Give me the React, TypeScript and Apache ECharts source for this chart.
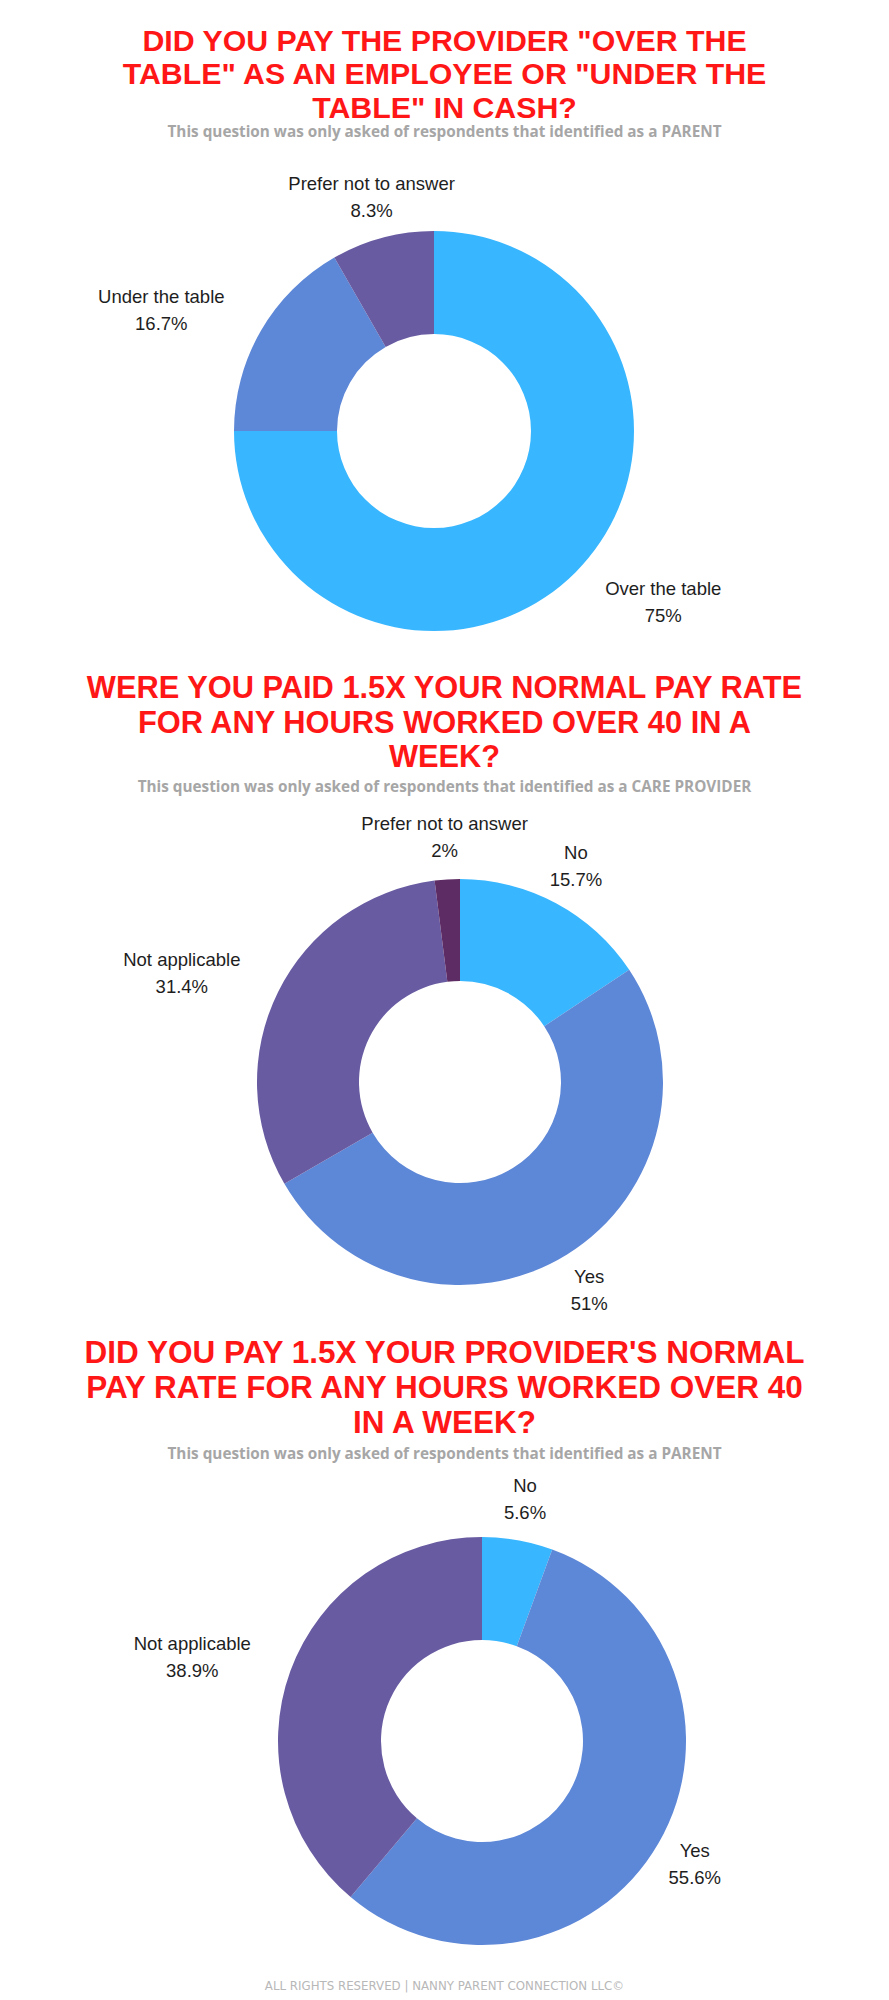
import React, { useEffect, useRef } from "react";
import * as echarts from "echarts";

// ---- Data ----
const titles1 = 'DID YOU PAY THE PROVIDER "OVER THE\nTABLE" AS AN EMPLOYEE OR "UNDER THE\nTABLE" IN CASH?';
const sub1 = "This question was only asked of respondents that identified as a PARENT";
const cats1 = ["Over the table", "Under the table", "Prefer not to answer"];
const vals1 = [75, 16.7, 8.3];

const titles2 = "WERE YOU PAID 1.5X YOUR NORMAL PAY RATE\nFOR ANY HOURS WORKED OVER 40 IN A\nWEEK?";
const sub2 = "This question was only asked of respondents that identified as a CARE PROVIDER";
const cats2 = ["No", "Yes", "Not applicable", "Prefer not to answer"];
const vals2 = [15.7, 51, 31.4, 2];

const titles3 = "DID YOU PAY 1.5X YOUR PROVIDER'S NORMAL\nPAY RATE FOR ANY HOURS WORKED OVER 40\nIN A WEEK?";
const sub3 = "This question was only asked of respondents that identified as a PARENT";
const cats3 = ["No", "Yes", "Not applicable"];
const vals3 = [5.6, 55.6, 38.9];

const footer = "ALL RIGHTS RESERVED | NANNY PARENT CONNECTION LLC©";

const colors = ["#38b6ff", "#5d87d7", "#685ba2", "#5e2c64"];

// ---- Layout ----
const charts = [
  { cats: cats1, vals: vals1, title: titles1, sub: sub1, titleY: 74, tfs: 30.3, subY: 131, cx: 434, cy: 431, r: 200, ri: 97 },
  { cats: cats2, vals: vals2, title: titles2, sub: sub2, titleY: 722, tfs: 30.8, subY: 785.5, cx: 460, cy: 1082, r: 203, ri: 101 },
  { cats: cats3, vals: vals3, title: titles3, sub: sub3, titleY: 1387, tfs: 31.5, subY: 1453, cx: 482, cy: 1741, r: 204, ri: 101 },
];

const LABEL_GAP = 42;

function makeLayout(c: any) {
  const total = c.vals.reduce((a: number, b: number) => a + b, 0);
  const mids: number[] = [];
  let acc = 0;
  c.vals.forEach((v: number) => {
    mids.push(((acc + v / 2) / total) * Math.PI * 2);
    acc += v;
  });
  return (params: any) => {
    const a = mids[params.dataIndex];
    const dx = Math.sin(a);
    const dy = -Math.cos(a);
    const R = c.r + LABEL_GAP;
    const px = c.cx + dx * R;
    const py = c.cy + dy * R;
    const hw = params.labelRect.width / 2;
    const hh = params.labelRect.height / 2;
    const nx = Math.min(Math.max(c.cx, px - hw), px + hw);
    const ny = Math.min(Math.max(c.cy, py - hh), py + hh);
    const d = Math.hypot(nx - c.cx, ny - c.cy);
    let x = px;
    if (d < c.r) x = dx > 0 ? px + hw : px - hw;
    return { x, y: py, align: "center", verticalAlign: "middle", hideOverlap: false, moveOverlap: null };
  };
}

export default function App() {
  const ref = useRef<HTMLDivElement>(null);
  useEffect(() => {
    document.body.style.margin = "0";
    const chart = echarts.init(ref.current!, undefined, { renderer: "svg" });
    const title: any[] = [];
    const series: any[] = [];
    charts.forEach((c) => {
      const lh = Math.ceil(c.tfs * 1.118 * 10) / 10;
      title.push({
        text: c.title,
        left: "center",
        top: c.titleY - lh * 1.5,
        padding: 0,
        textStyle: {
          fontFamily: "Liberation Sans",
          fontWeight: 700,
          fontSize: c.tfs,
          lineHeight: lh,
          color: "#ff1616",
        },
      });
      title.push({
        text: c.sub,
        left: "center",
        top: c.subY - 10,
        padding: 0,
        textStyle: {
          fontFamily: "Open Sans",
          fontWeight: 700,
          fontSize: 15.3,
          lineHeight: 20,
          color: "#a6a6a6",
        },
      });
      series.push({
        type: "pie",
        center: [c.cx, c.cy],
        radius: [c.ri, c.r],
        startAngle: 90,
        clockwise: true,
        silent: true,
        avoidLabelOverlap: false,
        data: c.cats.map((n: string, i: number) => ({ name: n, value: c.vals[i], itemStyle: { color: colors[i] } })),
        label: {
          show: true,
          position: "outside",
          formatter: (p: any) => `${p.name}\n${p.value}%`,
          fontFamily: "Liberation Sans",
          fontSize: 18.5,
          lineHeight: 27,
          color: "#1e1e1e",
        },
        labelLine: { show: false },
        labelLayout: makeLayout(c),
      });
    });
    title.push({
      text: footer,
      left: "center",
      top: 1979,
      padding: 0,
      textStyle: { fontFamily: "DejaVu Sans", fontWeight: 400, fontSize: 11.8, lineHeight: 14, color: "#b8b8b8" },
    });
    chart.setOption({ animation: false, backgroundColor: "#ffffff", title, series });
    return () => chart.dispose();
  }, []);
  return <div ref={ref} style={{ width: 889, height: 2000, position: "absolute", left: 0, top: 0 }} />;
}
